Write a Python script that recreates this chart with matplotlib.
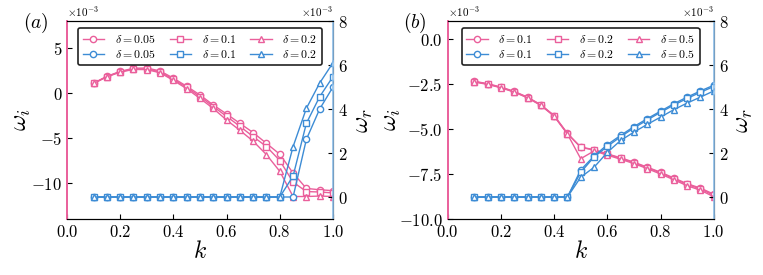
import matplotlib
matplotlib.use("Agg")
import matplotlib.pyplot as plt
from matplotlib.ticker import ScalarFormatter

plt.rcParams['font.family'] = 'serif'
plt.rcParams['font.serif'] = ['cmr10']
plt.rcParams['mathtext.fontset'] = 'cm'
plt.rcParams['axes.formatter.use_mathtext'] = True
plt.rcParams['axes.unicode_minus'] = True

PINK = '#EA5F9B'
BLUE = '#3D8CD5'

k = [0.1, 0.15, 0.2, 0.25, 0.3, 0.35, 0.4, 0.45, 0.5, 0.55,
     0.6, 0.65, 0.7, 0.75, 0.8, 0.85, 0.9, 0.95, 1.0]

# panel (a), values in units of 1e-3
deltas_a = ['0.05', '0.1', '0.2']
wi_a = [
    [1.10, 1.85, 2.40, 2.75, 2.78, 2.45, 1.65, 0.75, -0.22, -1.33,
     -2.33, -3.37, -4.40, -5.60, -6.80, -8.90, -10.60, -10.75, -10.85],
    [1.08, 1.82, 2.36, 2.68, 2.68, 2.35, 1.52, 0.62, -0.40, -1.50,
     -2.60, -3.70, -4.85, -5.95, -7.50, -9.90, -10.95, -11.00, -11.10],
    [1.06, 1.80, 2.32, 2.62, 2.60, 2.25, 1.40, 0.48, -0.60, -1.72,
     -3.00, -4.15, -5.35, -6.85, -8.70, -11.50, -11.50, -11.45, -11.50],
]
wr_a = [
    [0, 0, 0, 0, 0, 0, 0, 0, 0, 0, 0, 0, 0, 0, 0, 0, 2.62, 4.00, 5.00],
    [0, 0, 0, 0, 0, 0, 0, 0, 0, 0, 0, 0, 0, 0, 0, 0.95, 3.35, 4.56, 5.47],
    [0, 0, 0, 0, 0, 0, 0, 0, 0, 0, 0, 0, 0, 0, 0, 2.29, 4.03, 5.18, 6.10],
]

# panel (b)
deltas_b = ['0.1', '0.2', '0.5']
wi_b = [
    [-2.35, -2.48, -2.67, -2.91, -3.23, -3.65, -4.25, -5.24, -6.00, -6.15,
     -6.38, -6.60, -6.84, -7.12, -7.40, -7.72, -8.04, -8.28, -8.62],
    [-2.37, -2.50, -2.69, -2.93, -3.25, -3.67, -4.27, -5.26, -6.02, -6.17,
     -6.40, -6.63, -6.87, -7.15, -7.43, -7.76, -8.08, -8.33, -8.68],
    [-2.39, -2.52, -2.71, -2.95, -3.27, -3.69, -4.29, -5.28, -6.65, -6.22,
     -6.45, -6.68, -6.92, -7.20, -7.50, -7.82, -8.15, -8.40, -8.76],
]
wr_b = [
    [0, 0, 0, 0, 0, 0, 0, 0, 1.23, 1.86, 2.38, 2.80, 3.20, 3.56, 3.90, 4.24, 4.54, 4.82, 5.08],
    [0, 0, 0, 0, 0, 0, 0, 0, 1.12, 1.82, 2.30, 2.74, 3.14, 3.50, 3.85, 4.18, 4.48, 4.76, 5.02],
    [0, 0, 0, 0, 0, 0, 0, 0, 0.90, 1.35, 2.03, 2.57, 2.95, 3.30, 3.63, 3.97, 4.27, 4.54, 4.82],
]

markers = ['o', 's', '^']
scale = 1e-3

fig = plt.figure(figsize=(7.63, 2.75), dpi=100)
panels = [
    (0.0878, '(a)', deltas_a, wi_a, wr_a, (-14e-3, 8e-3), [-10e-3, -5e-3, 0, 5e-3], -0.128),
    (0.5868, '(b)', deltas_b, wi_b, wr_b, (-10e-3, 1e-3), [-10e-3, -7.5e-3, -5e-3, -2.5e-3, 0], -0.168),
]

for left, tag, deltas, wi, wr, ylim, yticks, ylab_x in panels:
    ax = fig.add_axes([left, 0.2036, 0.3486, 0.72])
    ax2 = ax.twinx()
    handles = []
    for i in range(3):
        lab = r'$\delta = %s$' % deltas[i]
        h1, = ax.plot(k, [v * scale for v in wi[i]], color=PINK, marker=markers[i],
                      ms=4.5, mfc='white', mew=1.0, lw=1.0, label=lab)
        h2, = ax2.plot(k, [v * scale for v in wr[i]], color=BLUE, marker=markers[i],
                       ms=4.5, mfc='white', mew=1.0, lw=1.0, label=lab)
        handles += [h1, h2]

    ax.set_xlim(0, 1)
    ax.set_xticks([0, 0.2, 0.4, 0.6, 0.8, 1.0])
    ax.set_ylim(*ylim)
    ax.set_yticks(yticks)
    ax2.set_ylim(-1e-3, 8e-3)
    ax2.set_yticks([0, 2e-3, 4e-3, 6e-3, 8e-3])

    for a in (ax, ax2):
        fmt = ScalarFormatter(useMathText=True)
        fmt.set_powerlimits((-3, -3))
        a.yaxis.set_major_formatter(fmt)
        a.yaxis.get_offset_text().set_fontsize(8)
        a.tick_params(direction='in', labelsize=12, length=3.5, width=0.8)

    ax.xaxis.set_major_formatter(plt.FuncFormatter(lambda v, p: r'$%.1f$' % v))

    ax.spines['left'].set_color(PINK)
    ax.spines['left'].set_linewidth(1.2)
    ax2.spines['left'].set_color(PINK)
    ax2.spines['left'].set_linewidth(1.2)
    ax2.spines['right'].set_color('#8EBFEA')
    ax2.spines['right'].set_linewidth(1.2)

    ax.set_xlabel(r'$k$', fontsize=17, labelpad=1)
    ax.set_ylabel(r'$\omega_i$', fontsize=18)
    ax.yaxis.set_label_coords(ylab_x, 0.5)
    ax2.set_ylabel(r'$\omega_r$', fontsize=18)
    ax2.yaxis.set_label_coords(1.073, 0.5)

    leg = ax2.legend(handles=handles, ncol=3, loc='upper center', fontsize=8.5,
                     handlelength=1.8, handletextpad=0.9, columnspacing=1.2,
                     borderpad=0.4, labelspacing=0.3, frameon=True, fancybox=True,
                     bbox_to_anchor=(0.5, 1.0), borderaxespad=0.6)
    leg.get_frame().set_edgecolor('#222222')
    leg.get_frame().set_linewidth(1.2)
    leg.get_frame().set_alpha(1.0)

    fig.text(left - 0.058, 0.915, r'$%s$' % tag, fontsize=14, ha='left', va='center')

fig.savefig('out.png', dpi=100)
